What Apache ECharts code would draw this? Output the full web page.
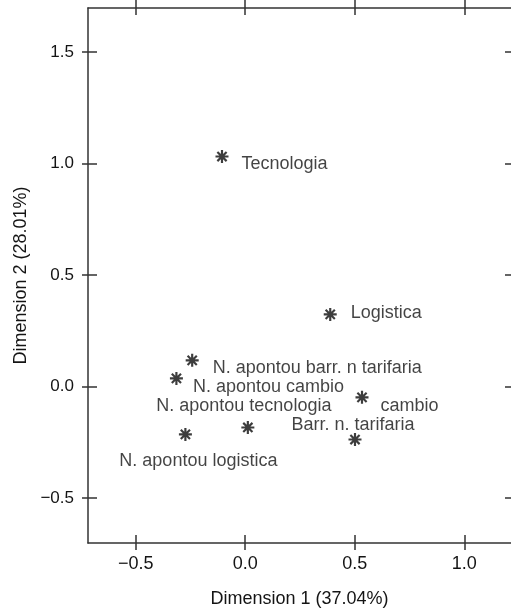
<!DOCTYPE html>
<html>
<head>
<meta charset="utf-8">
<script src="https://cdn.jsdelivr.net/npm/echarts@6/dist/echarts.min.js"></script>
<style>
  html, body { margin: 0; padding: 0; background: #ffffff; }
  #chart { width: 511px; height: 613px; }
</style>
</head>
<body>
<div id="chart"></div>
<script>
// Correspondence analysis map: category coordinates on the first two dimensions
const categories = [
  'Tecnologia',
  'Logistica',
  'N. apontou barr. n tarifaria',
  'N. apontou cambio',
  'cambio',
  'N. apontou tecnologia',
  'N. apontou logistica',
  'Barr. n. tarifaria'
];
const dim1 = [-0.106, 0.388, -0.242, -0.314, 0.533, 0.012, -0.273, 0.501];
const dim2 = [1.031, 0.323, 0.117, 0.036, -0.049, -0.184, -0.215, -0.238];

const xTicks = [-0.5, 0.0, 0.5, 1.0];
const yTicks = [-0.5, 0.0, 0.5, 1.0, 1.5];
const xTitle = 'Dimension 1 (37.04%)';
const yTitle = 'Dimension 2 (28.01%)';

// where each category label sits relative to its point
const labelSpots = {
  'Tecnologia':                   { side: 'right',  off: [13, 8] },
  'Logistica':                    { side: 'right',  off: [14, -1] },
  'N. apontou barr. n tarifaria': { side: 'right',  off: [14, 8] },
  'N. apontou cambio':            { side: 'right',  off: [10, 9] },
  'cambio':                       { side: 'right',  off: [12, 9] },
  'N. apontou tecnologia':        { side: 'inside', off: [-4, -21] },
  'N. apontou logistica':         { side: 'inside', off: [13, 27] },
  'Barr. n. tarifaria':           { side: 'inside', off: [-2, -14] }
};

const FONT = 'Liberation Sans, Arial, Helvetica, sans-serif';
const INK = '#141414';
const AXIS = '#333333';

// eight-armed asterisk marker
const asterisk = 'path://M0 10 L24 10 L24 14 L0 14 Z ' +
  'M10 0 L14 0 L14 24 L10 24 Z ' +
  'M4.9 2.1 L21.9 19.1 L19.1 21.9 L2.1 4.9 Z ' +
  'M21.9 4.9 L4.9 21.9 L2.1 19.1 L19.1 2.1 Z';

const fmt = v => (v < 0 ? '\u2212' : '') + Math.abs(v).toFixed(1);

const xRange = { min: -0.7175, max: 1.213 };
const yRange = { min: -0.702, max: 1.697 };

function xAxisDef(position, inside, len, withLabels, withLine) {
  return {
    type: 'value', position, ...xRange,
    splitLine: { show: false },
    axisLine: { show: withLine, onZero: false, lineStyle: { color: AXIS, width: 1.5 } },
    axisTick: { show: true, inside, length: len, customValues: xTicks,
      lineStyle: { color: AXIS, width: 1.5 } },
    axisLabel: { show: withLabels, customValues: xTicks, formatter: fmt,
      margin: 12, color: INK, fontFamily: FONT, fontSize: 18 },
    name: withLabels ? xTitle : '',
    nameLocation: 'middle', nameGap: 47,
    nameTextStyle: { color: INK, fontFamily: FONT, fontSize: 18 }
  };
}
function yAxisDef(position, inside, len, withLabels, withLine) {
  return {
    type: 'value', position, ...yRange,
    splitLine: { show: false },
    axisLine: { show: withLine, onZero: false, lineStyle: { color: AXIS, width: 1.5 } },
    axisTick: { show: true, inside, length: len, customValues: yTicks,
      lineStyle: { color: AXIS, width: 1.5 } },
    axisLabel: { show: withLabels, customValues: yTicks, formatter: fmt,
      margin: 14, color: INK, fontFamily: FONT, fontSize: 17 },
    name: withLabels ? yTitle : '',
    nameLocation: 'middle', nameGap: 58, nameRotate: 90,
    nameTextStyle: { color: INK, fontFamily: FONT, fontSize: 18 }
  };
}

const points = categories.map((name, i) => {
  const spot = labelSpots[name];
  return {
    name,
    value: [dim1[i], dim2[i]],
    label: {
      show: true,
      position: spot.side,
      distance: 0,
      offset: spot.off,
      formatter: name
    }
  };
});

const chart = echarts.init(document.getElementById('chart'), null, { renderer: 'canvas' });
chart.setOption({
  animation: false,
  backgroundColor: '#ffffff',
  grid: { left: 88, top: 8, width: 426, height: 535, containLabel: false },
  xAxis: [
    xAxisDef('bottom', false, 7, true, true),
    xAxisDef('bottom', true, 8, false, false),
    xAxisDef('top', false, 8, false, true),
    xAxisDef('top', true, 7, false, false)
  ],
  yAxis: [
    yAxisDef('left', false, 6, true, true),
    yAxisDef('left', true, 9, false, false),
    yAxisDef('right', true, 6, false, false),
    yAxisDef('right', false, 6, false, false)
  ],
  series: [{
    type: 'scatter',
    xAxisIndex: 0,
    yAxisIndex: 0,
    symbol: asterisk,
    symbolSize: 13,
    itemStyle: { color: '#0d0d0d' },
    label: { color: INK, fontFamily: FONT, fontSize: 18 },
    emphasis: { disabled: true },
    data: points
  }]
});
</script>
</body>
</html>
